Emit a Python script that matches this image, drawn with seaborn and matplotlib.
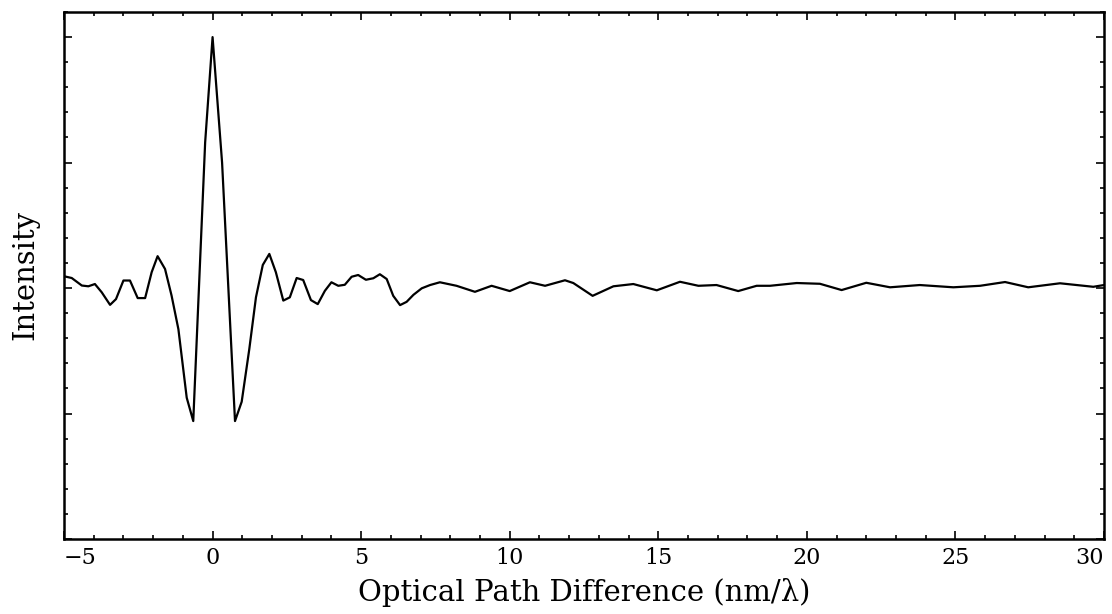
import numpy as np
import pandas as pd
import matplotlib
matplotlib.use("Agg")
import matplotlib.pyplot as plt
import seaborn as sns
from matplotlib.ticker import MultipleLocator, NullFormatter

# Data (optical path difference vs. intensity)
opd = [-5.0, -4.74, -4.4, -4.18, -3.96, -3.73, -3.45, -3.25, -3.0, -2.78,
       -2.52, -2.27, -2.05, -1.85, -1.6, -1.38, -1.15, -0.87, -0.65, -0.25,
       0.0, 0.32, 0.755, 0.98, 1.235, 1.46, 1.69, 1.91, 2.13, 2.38,
       2.6, 2.83, 3.05, 3.31, 3.54, 3.78, 4.0, 4.23, 4.45, 4.68,
       4.9, 5.16, 5.41, 5.63, 5.86, 6.08, 6.31, 6.53, 6.76, 7.04,
       7.32, 7.65, 8.21, 8.83, 9.39, 10.0, 10.68, 11.19, 11.86, 12.14,
       12.79, 13.49, 14.16, 14.95, 15.73, 16.35, 16.96, 17.69, 18.31, 18.76,
       19.66, 20.44, 21.17, 22.0, 22.8, 23.8, 24.93, 25.83, 26.67, 27.45,
       28.52, 29.64, 30.0]
intensity = [0.047, 0.04, 0.01, 0.007, 0.016, -0.017, -0.067, -0.044, 0.03, 0.03,
             -0.04, -0.04, 0.063, 0.127, 0.076, -0.03, -0.164, -0.437, -0.53, 0.58,
             1.0, 0.5, -0.53, -0.453, -0.244, -0.037, 0.092, 0.136, 0.063, -0.05,
             -0.037, 0.04, 0.032, -0.048, -0.064, -0.011, 0.023, 0.009, 0.013, 0.045,
             0.052, 0.033, 0.039, 0.055, 0.036, -0.031, -0.068, -0.055, -0.027, -0.001,
             0.012, 0.023, 0.009, -0.015, 0.009, -0.012, 0.023, 0.009, 0.031, 0.02,
             -0.031, 0.007, 0.016, -0.009, 0.025, 0.009, 0.012, -0.012, 0.009, 0.009,
             0.02, 0.017, -0.008, 0.021, 0.003, 0.012, 0.003, 0.009, 0.024, 0.003,
             0.019, 0.005, 0.012]
x_tick_values = [-5, 0, 5, 10, 15, 20, 25, 30]

sns.set_style("ticks")
plt.rcParams['font.family'] = ['DejaVu Serif']
plt.rcParams['mathtext.fontset'] = 'dejavuserif'
plt.rcParams['text.color'] = 'black'
plt.rcParams['axes.labelcolor'] = 'black'
plt.rcParams['xtick.color'] = 'black'
plt.rcParams['ytick.color'] = 'black'

df = pd.DataFrame({"opd": opd, "intensity": intensity})

fig = plt.figure(figsize=(11.12, 6.14), dpi=100)
ax = fig.add_axes([64 / 1112, 1 - 539 / 614, (1104 - 64) / 1112, (539 - 12) / 614])

sns.lineplot(data=df, x="opd", y="intensity", ax=ax, color="black",
             linewidth=1.6, sort=False, estimator=None)

ax.set_xlim(-5, 30)
ax.set_ylim(-1.0, 1.1)
ax.set_xticks(x_tick_values)
ax.xaxis.set_minor_locator(MultipleLocator(1))
ax.yaxis.set_major_locator(MultipleLocator(0.5))
ax.yaxis.set_minor_locator(MultipleLocator(0.1))
ax.yaxis.set_major_formatter(NullFormatter())

ax.tick_params(which="both", direction="in", top=True, right=True,
               width=1.2, colors="black")
ax.tick_params(which="major", length=6, labelsize=16, pad=6)
ax.tick_params(which="minor", length=3)
for s in ax.spines.values():
    s.set_linewidth(1.8)
    s.set_color("black")

labels = ax.get_xticklabels()
labels[0].set_horizontalalignment("left")
labels[-1].set_horizontalalignment("right")

ax.set_xlabel("Optical Path Difference (nm/λ)", fontsize=21, labelpad=6,
              color="black")
ax.set_ylabel("Intensity", fontsize=21, labelpad=12, color="black")

fig.savefig("out.png", dpi=100)
